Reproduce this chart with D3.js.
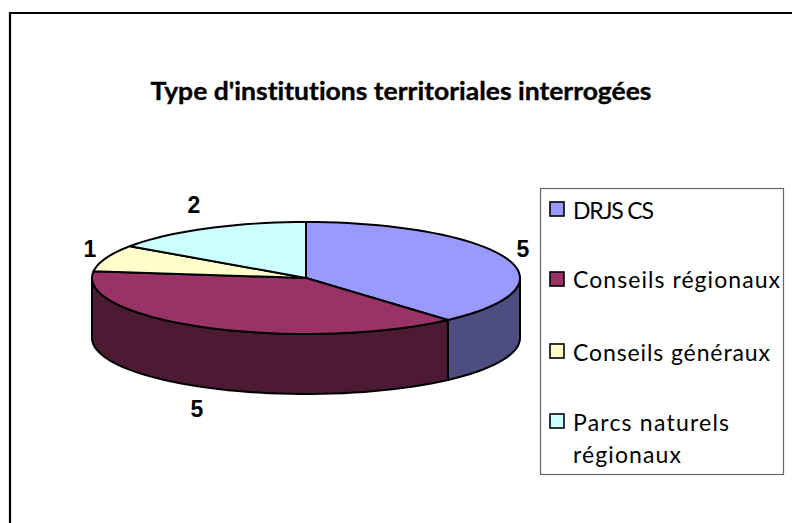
<!DOCTYPE html>
<html>
<head>
<meta charset="utf-8">
<script src="https://cdn.jsdelivr.net/npm/d3@7"></script>
<style>
  html, body { margin: 0; padding: 0; background: #fff; overflow: hidden; }
  svg { display: block; }
  text { font-variant-ligatures: none; }
</style>
</head>
<body>
<div id="chart"></div>
<script>
const categories = ["DRJS CS", "Conseils régionaux", "Conseils généraux", "Parcs naturels régionaux"];
const values = [5, 5, 1, 2];
const topColors = ["#9999ff", "#993366", "#ffffcc", "#ccffff"];
const sideColors = ["#4d4d80", "#4d1a33", "#808066", "#668080"];
const legendLines = [["DRJS CS"], ["Conseils régionaux"], ["Conseils généraux"], ["Parcs naturels", "régionaux"]];
const legendWidths = [[81], [207], [197], [156, 108]];

const width = 792, height = 523;
const cx = 306, cy = 278, rx = 214, ry = 56, depth = 60;

const svg = d3.select("#chart").append("svg")
  .attr("width", width)
  .attr("height", height);

// outer frame
svg.append("path")
  .attr("d", "M10,523V13H792")
  .attr("fill", "none")
  .attr("stroke", "#000")
  .attr("stroke-width", 2.2);

svg.append("text")
  .attr("x", 401)
  .attr("y", 100)
  .attr("text-anchor", "middle")
  .attr("font-family", "Lato")
  .attr("font-weight", "bold")
  .attr("font-size", 24)
  .attr("textLength", 501)
  .attr("lengthAdjust", "spacingAndGlyphs")
  .attr("fill", "#000")
  .attr("stroke", "#000")
  .attr("stroke-width", 0.35)
  .text("Type d'institutions territoriales interrogées");

const pie = d3.pie().sort(null);
const slices = pie(values);

// angle is clockwise from 12 o'clock, like d3.pie
const ex = a => cx + rx * Math.sin(a);
const ey = a => cy - ry * Math.cos(a);

function rim(a0, a1, dy) {
  const n = Math.max(2, Math.ceil((a1 - a0) / 0.05));
  return d3.range(n + 1).map(i => {
    const a = a0 + (a1 - a0) * i / n;
    return [ex(a), ey(a) + dy];
  });
}
const line = d3.line();

// side walls, only the front half of the disc shows
const frontStart = Math.PI / 2, frontEnd = 3 * Math.PI / 2;
slices.forEach((d, i) => {
  const a0 = Math.max(d.startAngle, frontStart), a1 = Math.min(d.endAngle, frontEnd);
  if (a1 <= a0) return;
  const pts = rim(a0, a1, 0).concat(rim(a0, a1, depth).reverse());
  svg.append("path")
    .attr("d", line(pts) + "Z")
    .attr("fill", sideColors[i])
    .attr("stroke", "#000")
    .attr("stroke-width", 2)
    .attr("stroke-linejoin", "round");
});

// top faces
slices.forEach((d, i) => {
  const pts = [[cx, cy]].concat(rim(d.startAngle, d.endAngle, 0));
  svg.append("path")
    .attr("d", line(pts) + "Z")
    .attr("fill", topColors[i])
    .attr("stroke", "#000")
    .attr("stroke-width", 2)
    .attr("stroke-linejoin", "round");
});

// data labels
const labelX = [523, 197, 90, 194];
const labelY = [257, 417, 257, 213];
values.forEach((v, i) => {
  svg.append("text")
    .attr("x", labelX[i])
    .attr("y", labelY[i])
    .attr("text-anchor", "middle")
    .attr("font-family", "Liberation Sans")
    .attr("font-weight", "bold")
    .attr("font-size", 23)
    .text(v);
});

// legend
svg.append("rect")
  .attr("x", 540.5)
  .attr("y", 188.5)
  .attr("width", 243)
  .attr("height", 286)
  .attr("fill", "#fff")
  .attr("stroke", "#666")
  .attr("stroke-width", 1.2);

const swatchY = [209, 279, 351, 421];
const legendBase = [219, 288, 361, 431];
categories.forEach((c, i) => {
  svg.append("rect")
    .attr("x", 550)
    .attr("y", swatchY[i] - 7)
    .attr("width", 14)
    .attr("height", 14)
    .attr("fill", topColors[i])
    .attr("stroke", "#000")
    .attr("stroke-width", 1.6);
  legendLines[i].forEach((t, j) => {
    svg.append("text")
      .attr("x", 573)
      .attr("y", legendBase[i] + j * 32)
      .attr("font-family", "Lato")
      .attr("font-size", 23)
      .attr("textLength", legendWidths[i][j])
      .attr("fill", "#000")
      .text(t);
  });
});
</script>
</body>
</html>
